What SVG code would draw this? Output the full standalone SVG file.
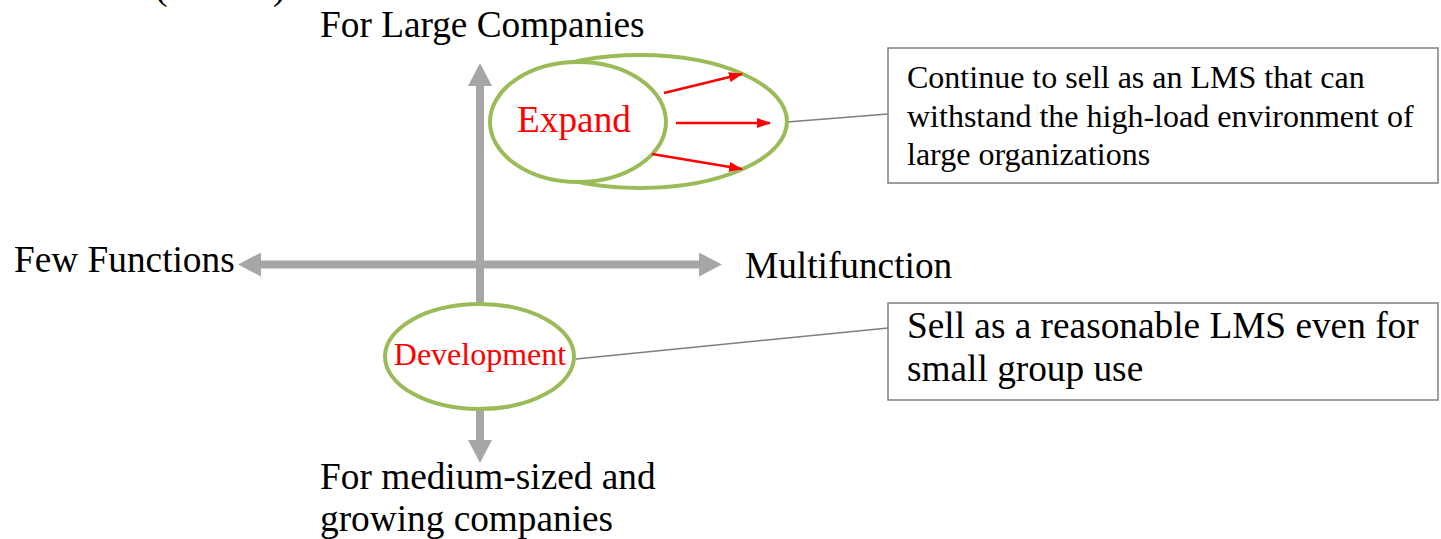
<svg xmlns="http://www.w3.org/2000/svg" width="1441" height="539" viewBox="0 0 1441 539">
  <style>
    text { font-family: "Liberation Serif", "Times New Roman", serif; fill: #000; }
    .lbl { font-size: 37.3px; }
    .small { font-size: 32px; }
    .red { fill: #ff0000; }
    .axis { stroke: #a6a6a6; stroke-width: 8; fill: none; }
    .ring { stroke: #9bbb59; stroke-width: 4; fill: #fff; }
    .leader { stroke: #7f7f7f; stroke-width: 1.5; fill: none; }
    .box { stroke: #7f7f7f; stroke-width: 1.5; fill: #fff; }
    .push { stroke: #ff0000; stroke-width: 2.5; fill: none; }
  </style>
  <defs>
    <marker id="axisHead" viewBox="0 -12 24 24" refX="0" refY="0" markerWidth="24" markerHeight="24" markerUnits="userSpaceOnUse" orient="auto-start-reverse">
      <path d="M0,-12 L23,0 L0,12 z" fill="#a6a6a6"/>
    </marker>
    <marker id="redHead" viewBox="0 0 14 10" refX="13" refY="5" markerWidth="14" markerHeight="10" markerUnits="userSpaceOnUse" orient="auto">
      <path d="M0,0 L14,5 L0,10 z" fill="#ff0000"/>
    </marker>
  </defs>

  <!-- heading line, clipped at the top edge -->
  <text class="lbl" x="155" y="-1">(</text>
  <text class="lbl" x="273" y="-1">)</text>

  <!-- axes and leader lines -->
  <g id="connectors">
    <line class="axis" x1="261" y1="264.5" x2="699" y2="264.5" marker-start="url(#axisHead)" marker-end="url(#axisHead)"/>
    <line class="axis" x1="480" y1="86" x2="480" y2="440" marker-start="url(#axisHead)" marker-end="url(#axisHead)"/>
    <line class="leader" x1="787" y1="122" x2="888" y2="114"/>
    <line class="leader" x1="576" y1="359" x2="888" y2="328"/>
  </g>

  <!-- axis labels -->
  <g id="label-top"><text class="lbl" x="320" y="37">For Large Companies</text></g>
  <g id="label-left"><text class="lbl" x="14" y="272">Few Functions</text></g>
  <g id="label-right"><text class="lbl" x="745" y="278">Multifunction</text></g>
  <g id="label-bottom">
    <text class="lbl" x="320" y="489">For medium-sized and</text>
    <text class="lbl" x="320" y="531">growing companies</text>
  </g>

  <!-- expansion area -->
  <g id="expand">
    <ellipse class="ring" cx="640" cy="121.5" rx="147" ry="66.5"/>
    <ellipse class="ring" cx="578" cy="122" rx="88" ry="60"/>
    <text class="lbl red" x="574" y="132" text-anchor="middle">Expand</text>
    <line class="push" x1="664" y1="93" x2="742" y2="74" marker-end="url(#redHead)"/>
    <line class="push" x1="676" y1="123" x2="770" y2="123" marker-end="url(#redHead)"/>
    <line class="push" x1="652" y1="154" x2="742" y2="169" marker-end="url(#redHead)"/>
  </g>

  <g id="development">
    <ellipse class="ring" cx="479.5" cy="356.5" rx="94.5" ry="52.5"/>
    <text class="small red" x="480" y="365" text-anchor="middle">Development</text>
  </g>

  <g id="note-large">
    <rect class="box" x="888" y="48" width="550" height="135"/>
    <text class="small" x="907" y="88">Continue to sell as an LMS that can</text>
    <text class="small" x="907" y="127">withstand the high-load environment of</text>
    <text class="small" x="907" y="165">large organizations</text>
  </g>

  <g id="note-small">
    <rect class="box" x="888" y="303" width="550" height="97"/>
    <text class="lbl" x="907" y="338">Sell as a reasonable LMS even for</text>
    <text class="lbl" x="907" y="381">small group use</text>
  </g>
</svg>
